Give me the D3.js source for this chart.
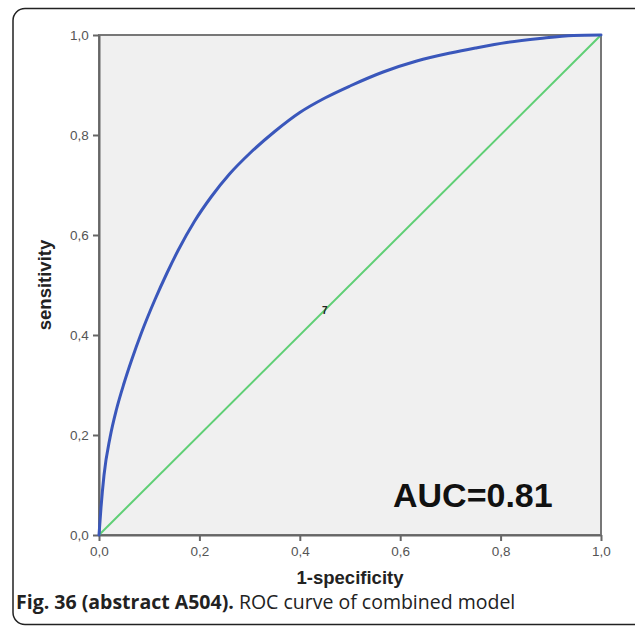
<!DOCTYPE html>
<html>
<head>
<meta charset="utf-8">
<script src="https://cdn.jsdelivr.net/npm/d3@7"></script>
<style>
  body { margin: 0; background: #fff; }
  svg { display: block; }
</style>
</head>
<body>
<svg id="chart" width="635" height="628"></svg>
<script>
// ROC curve points
var fpr = [0, 0.004, 0.01, 0.022, 0.035, 0.05, 0.065, 0.084, 0.112, 0.135, 0.158, 0.19, 0.224,
  0.26, 0.30, 0.35, 0.40, 0.45, 0.50, 0.566, 0.633, 0.70, 0.75, 0.812, 0.878, 0.945, 1.0];
var tpr = [0, 0.055, 0.12, 0.195, 0.252, 0.304, 0.35, 0.403, 0.472, 0.523, 0.57, 0.627, 0.677,
  0.722, 0.763, 0.807, 0.845, 0.874, 0.898, 0.926, 0.948, 0.964, 0.974, 0.985, 0.993, 0.999, 1.0];
var refLine = [0, 1];
var ticks = [0, 0.2, 0.4, 0.6, 0.8, 1.0];
var aucLabel = "AUC=0.81";

var svg = d3.select("#chart");

// outer frame
svg.append("rect")
  .attr("x", 13).attr("y", 8.5)
  .attr("width", 640).attr("height", 616)
  .attr("rx", 12)
  .attr("fill", "none")
  .attr("stroke", "#222")
  .attr("stroke-width", 1.5);

var margin = { top: 35, left: 99 };
var width = 502, height = 500;

var x = d3.scaleLinear().domain([0, 1]).range([margin.left, margin.left + width]);
var y = d3.scaleLinear().domain([0, 1]).range([margin.top + height, margin.top]);

var fmt = function(d) { return d3.format(".1f")(d).replace(".", ","); };

// plot background
svg.append("rect")
  .attr("x", x(0)).attr("y", y(1))
  .attr("width", width).attr("height", height)
  .attr("fill", "#f0f0f0")
  .attr("stroke", "#777")
  .attr("stroke-width", 2);

// axes
var xAxis = svg.append("g")
  .attr("transform", "translate(0," + y(0) + ")")
  .call(d3.axisBottom(x).tickValues(ticks).tickFormat(fmt).tickSize(6).tickSizeOuter(0));
var yAxis = svg.append("g")
  .attr("transform", "translate(" + x(0) + ",0)")
  .call(d3.axisLeft(y).tickValues(ticks).tickFormat(fmt).tickSize(6).tickSizeOuter(0));

[xAxis, yAxis].forEach(function(a) {
  a.select(".domain").attr("stroke", "#666").attr("stroke-width", 2);
  a.selectAll(".tick line").attr("stroke", "#666").attr("stroke-width", 2);
  a.selectAll(".tick text")
    .attr("fill", "#555")
    .style("font-family", "Liberation Sans, Arial, sans-serif")
    .style("font-size", "13.5px");
});
xAxis.selectAll(".tick text").attr("dy", "0.9em");
yAxis.selectAll(".tick text").attr("dx", "-0.1em");

// reference diagonal
svg.append("line")
  .attr("x1", x(refLine[0])).attr("y1", y(refLine[0]))
  .attr("x2", x(refLine[1])).attr("y2", y(refLine[1]))
  .attr("stroke", "#5fcf75")
  .attr("stroke-width", 2);

// ROC curve
var pts = fpr.map(function(d, i) { return [d, tpr[i]]; });
var line = d3.line()
  .x(function(d) { return x(d[0]); })
  .y(function(d) { return y(d[1]); })
  .curve(d3.curveMonotoneX);

svg.append("path")
  .datum(pts)
  .attr("d", line)
  .attr("fill", "none")
  .attr("stroke", "#3a57bb")
  .attr("stroke-width", 3)
  .attr("stroke-linecap", "round");

// small marker label on the diagonal
svg.append("text")
  .attr("x", x(0.45)).attr("y", y(0.45) + 4)
  .attr("text-anchor", "middle")
  .attr("fill", "#222")
  .style("font-family", "Liberation Sans, Arial, sans-serif")
  .style("font-size", "10px")
  .style("font-weight", "bold")
  .text("7");

// AUC annotation
svg.append("text")
  .attr("x", 393).attr("y", 507)
  .attr("fill", "#111")
  .style("font-family", "Liberation Sans, Arial, sans-serif")
  .style("font-size", "34px")
  .style("font-weight", "bold")
  .text(aucLabel);

// axis titles
svg.append("text")
  .attr("x", x(0.5)).attr("y", 584)
  .attr("text-anchor", "middle")
  .attr("fill", "#222")
  .style("font-family", "Liberation Sans, Arial, sans-serif")
  .style("font-size", "18.5px")
  .style("font-weight", "bold")
  .text("1-specificity");

svg.append("text")
  .attr("transform", "translate(51," + y(0.5) + ") rotate(-90)")
  .attr("text-anchor", "middle")
  .attr("fill", "#222")
  .style("font-family", "Liberation Sans, Arial, sans-serif")
  .style("font-size", "18.5px")
  .style("font-weight", "bold")
  .text("sensitivity");

// caption
var cap = svg.append("text")
  .attr("x", 16).attr("y", 609)
  .attr("fill", "#222")
  .style("font-family", "Open Sans, sans-serif")
  .style("font-size", "19.5px");
cap.append("tspan").style("font-weight", "bold").text("Fig. 36 (abstract A504).");
cap.append("tspan").text(" ROC curve of combined model");
</script>
</body>
</html>
